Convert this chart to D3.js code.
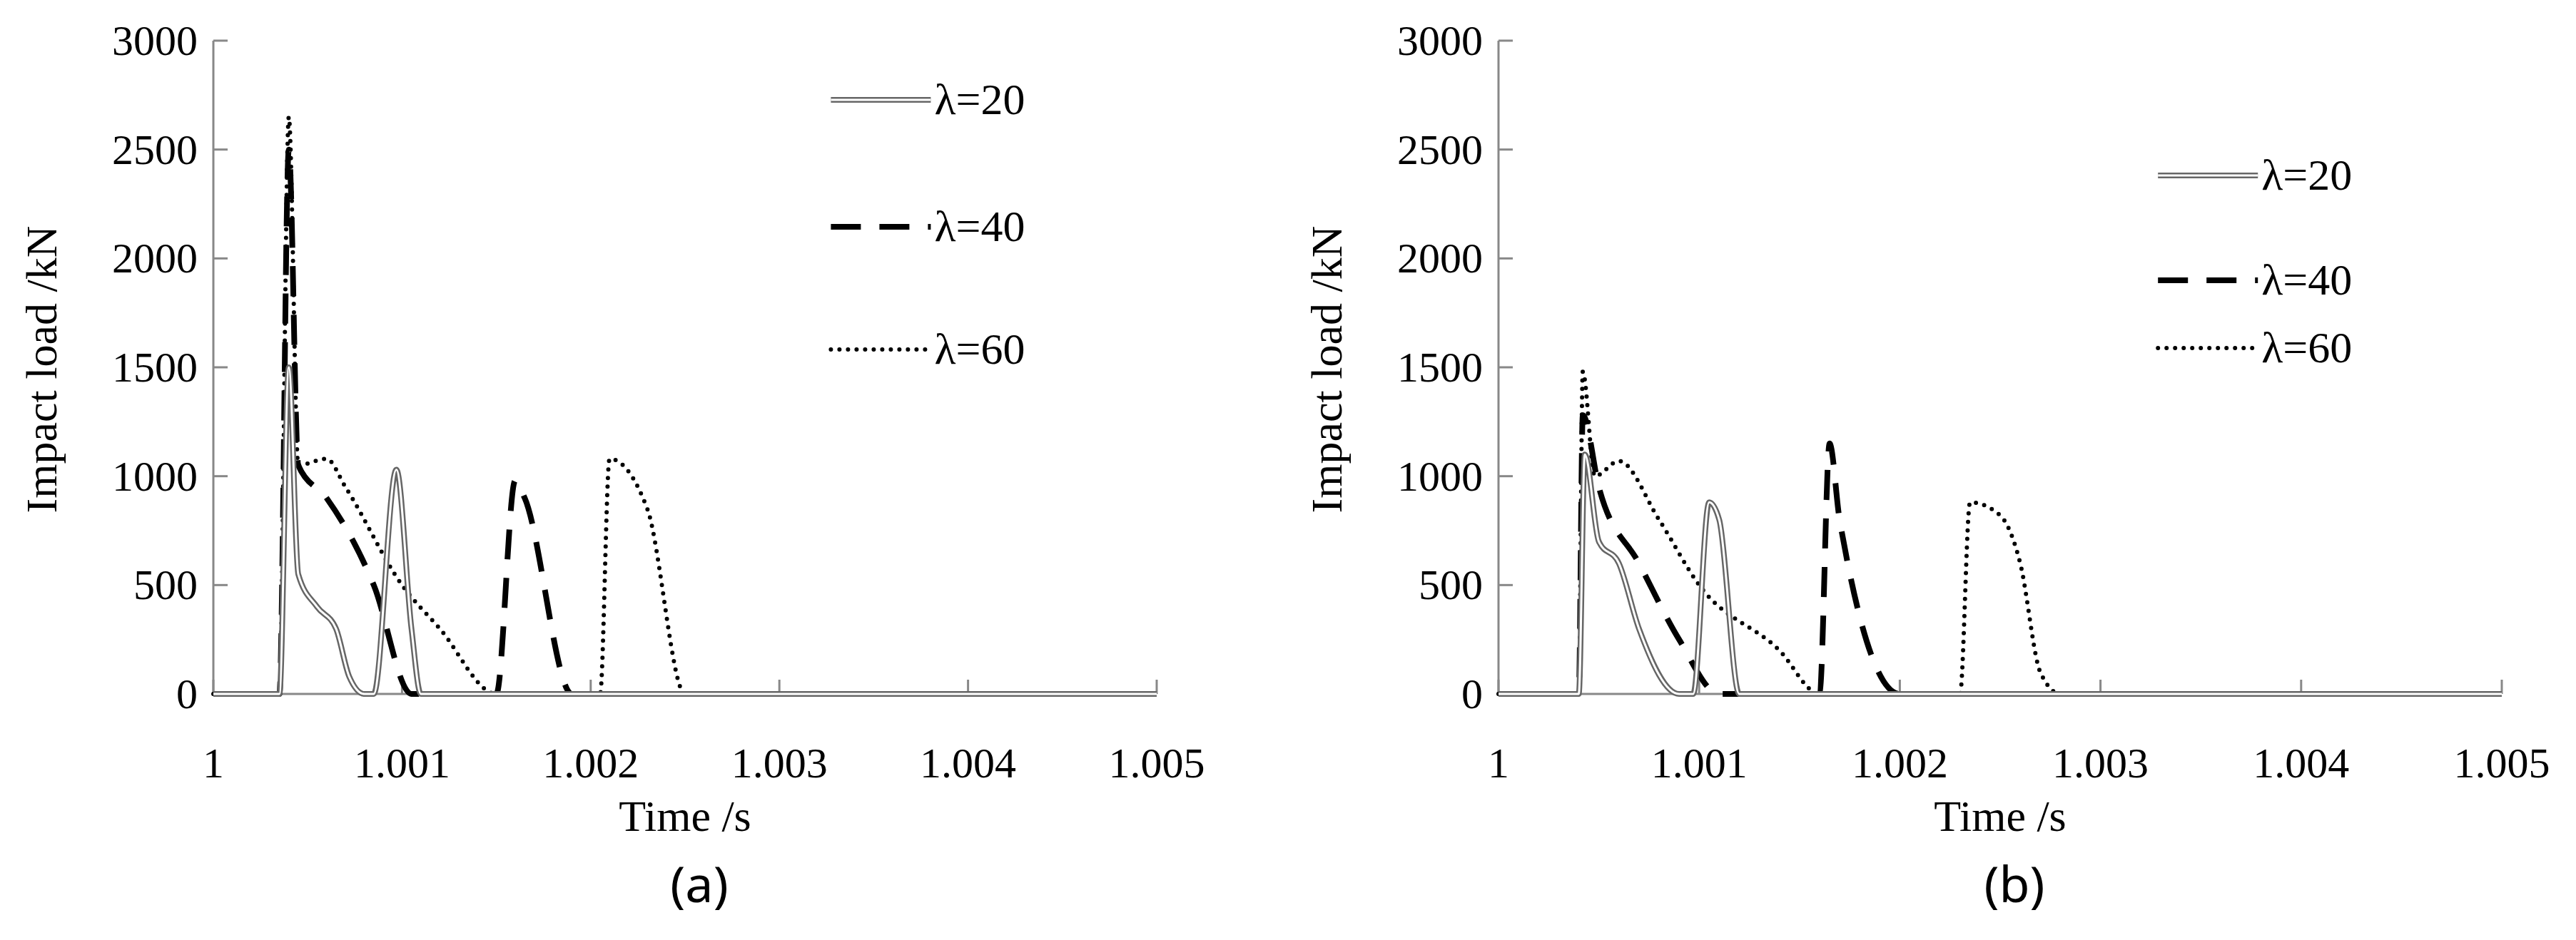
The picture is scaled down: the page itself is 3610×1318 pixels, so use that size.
<!DOCTYPE html>
<html>
<head>
<script src="https://d3js.org/d3.v7.min.js"></script>
<style>body{margin:0;background:#fff}</style>
</head>
<body>
<script>
// data
var xTicks = [1, 1.001, 1.002, 1.003, 1.004, 1.005];
var yTicks = [0, 500, 1000, 1500, 2000, 2500, 3000];
var seriesNames = ["λ=20", "λ=40", "λ=60"];

var a20 = [[1,0],[1.00035,0],[1.0004,1500],[1.00045,550],[1.00055,400],[1.00065,300],[1.00072,80],[1.0008,0],[1.00085,0],[1.00097,1030],[1.00105,300],[1.0011,0],[1.005,0]];
var a40 = [[1,0],[1.00035,0],[1.0004,2500],[1.00045,1050],[1.0006,900],[1.00085,500],[1.00105,0],[1.0015,0],[1.0016,980],[1.00165,900],[1.0019,0],[1.005,0]];
var a60 = [[1,0],[1.00035,0],[1.0004,2650],[1.00045,1050],[1.0006,1080],[1.0007,950],[1.001,500],[1.0012,300],[1.0015,0],[1.00205,0],[1.0021,1080],[1.0023,850],[1.0025,0],[1.005,0]];

var b20 = [[1,0],[1.0004,0],[1.00043,1100],[1.0005,700],[1.0006,600],[1.0007,300],[1.0009,0],[1.00097,0],[1.00105,880],[1.0011,800],[1.0012,0],[1.005,0]];
var b40 = [[1,0],[1.0004,0],[1.00042,1280],[1.0005,950],[1.0007,600],[1.0009,250],[1.0011,0],[1.0016,0],[1.00165,1150],[1.0017,800],[1.002,0],[1.005,0]];
var b60 = [[1,0],[1.0004,0],[1.00042,1480],[1.00048,1000],[1.0006,1070],[1.0008,800],[1.001,500],[1.0014,200],[1.0016,0],[1.0023,0],[1.00235,880],[1.0025,820],[1.0026,600],[1.0027,100],[1.0028,0],[1.005,0]];

var svg = d3.select("body").append("svg").attr("width", 3610).attr("height", 1318);

function panel(left, right, series, label, legendYs) {
  var x = d3.scaleLinear().domain([1, 1.005]).range([left, right]);
  var y = d3.scaleLinear().domain([0, 3000]).range([973, 57]);
  var g = svg.append("g");

  // axes
  g.append("line").attr("x1", left).attr("x2", left).attr("y1", y(3000)).attr("y2", y(0)).attr("stroke", "#888").attr("stroke-width", 3);
  g.append("line").attr("x1", left).attr("x2", right).attr("y1", y(0)).attr("y2", y(0)).attr("stroke", "#888").attr("stroke-width", 3);
  yTicks.forEach(function(t) {
    g.append("line").attr("x1", left).attr("x2", left + 20).attr("y1", y(t)).attr("y2", y(t)).attr("stroke", "#888").attr("stroke-width", 3);
    g.append("text").attr("x", left - 22).attr("y", y(t) + 20).attr("text-anchor", "end")
      .attr("font-family", "Liberation Serif").attr("font-size", 60).text(t);
  });
  xTicks.forEach(function(t) {
    g.append("line").attr("x1", x(t)).attr("x2", x(t)).attr("y1", y(0)).attr("y2", y(0) - 20).attr("stroke", "#888").attr("stroke-width", 3);
    g.append("text").attr("x", x(t)).attr("y", 1090).attr("text-anchor", "middle")
      .attr("font-family", "Liberation Serif").attr("font-size", 60).text(t);
  });
  g.append("text").attr("x", (left + right) / 2).attr("y", 1165).attr("text-anchor", "middle")
    .attr("font-family", "Liberation Serif").attr("font-size", 62).text("Time /s");
  g.append("text").attr("transform", "translate(" + (left - 220) + ",518) rotate(-90)").attr("text-anchor", "middle")
    .attr("font-family", "Liberation Serif").attr("font-size", 62).text("Impact load /kN");
  g.append("text").attr("x", (left + right) / 2 + 20).attr("y", 1265).attr("text-anchor", "middle")
    .attr("font-family", "Noto Sans").attr("font-size", 70).text(label);

  var line = d3.line().x(function(d) { return x(d[0]); }).y(function(d) { return y(d[1]); }).curve(d3.curveMonotoneX);

  function drawStyle(sel, i) {
    if (i === 1) sel.attr("stroke", "#000").attr("stroke-width", 8).attr("stroke-dasharray", "42,26");
    if (i === 2) sel.attr("stroke", "#000").attr("stroke-width", 6).attr("stroke-dasharray", "0,12").attr("stroke-linecap", "round");
  }

  [2, 1, 0].forEach(function(i) {
    var d = series[i];
    if (i === 0) {
      g.append("path").attr("d", line(d)).attr("fill", "none").attr("stroke", "#666").attr("stroke-width", 8);
      g.append("path").attr("d", line(d)).attr("fill", "none").attr("stroke", "#fff").attr("stroke-width", 3);
    } else {
      g.append("path").attr("d", line(d)).attr("fill", "none").call(drawStyle, i);
    }
  });

  // legend
  var lx = x(1.0035) - 60;
  seriesNames.forEach(function(name, i) {
    var ly = legendYs[i];
    if (i === 0) {
      g.append("line").attr("x1", lx).attr("x2", lx + 140).attr("y1", ly).attr("y2", ly).attr("stroke", "#666").attr("stroke-width", 8);
      g.append("line").attr("x1", lx).attr("x2", lx + 140).attr("y1", ly).attr("y2", ly).attr("stroke", "#fff").attr("stroke-width", 3);
    } else {
      g.append("line").attr("x1", lx).attr("x2", lx + 140).attr("y1", ly).attr("y2", ly).call(drawStyle, i);
    }
    g.append("text").attr("x", lx + 145).attr("y", ly + 20).attr("font-family", "Liberation Serif").attr("font-size", 62).text(name);
  });
}

panel(299, 1621, [a20, a40, a60], "(a)", [140, 318, 490]);
panel(2100, 3506, [b20, b40, b60], "(b)", [246, 393, 488]);
</script>
</body>
</html>
